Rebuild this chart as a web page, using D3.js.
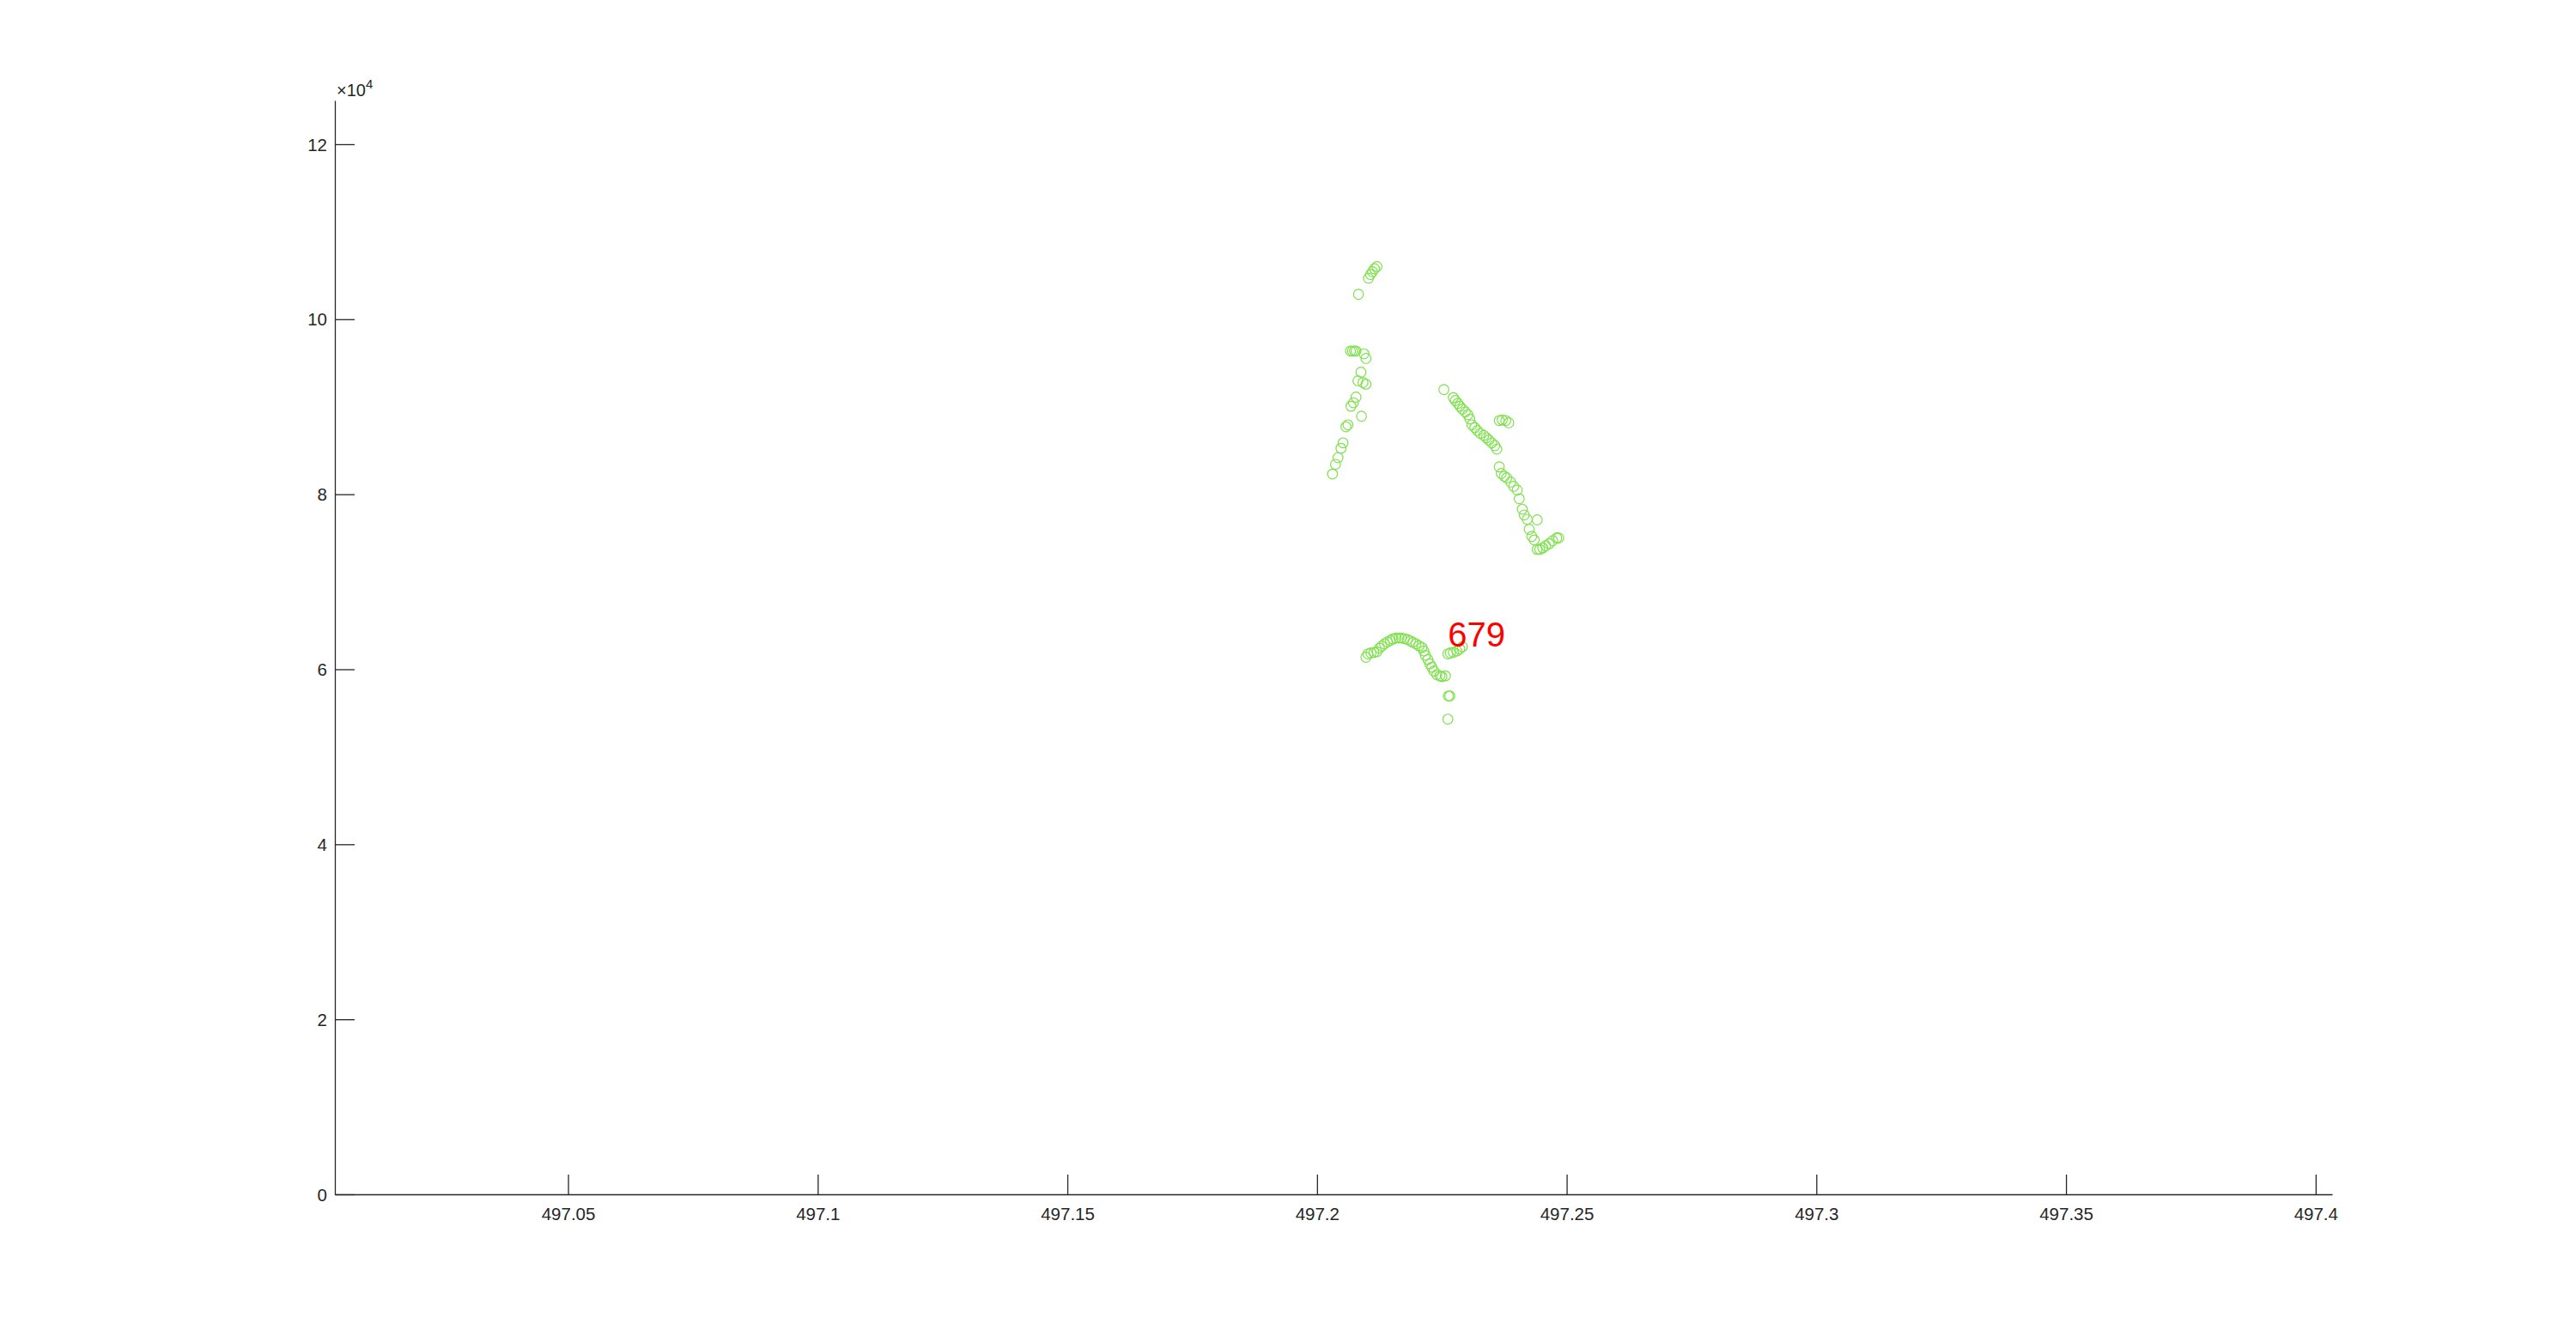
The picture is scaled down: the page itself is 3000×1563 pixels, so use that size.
<!DOCTYPE html>
<html>
<head>
<meta charset="utf-8">
<script src="https://cdn.jsdelivr.net/npm/d3@7"></script>
<style>
  html, body { margin: 0; padding: 0; background: #ffffff; }
  svg { display: block; }
</style>
</head>
<body>
<script>
// ---- data ----
const mzValues = [
  // rising trace
  497.2120, 497.2115, 497.2111, 497.2107, 497.2103, 497.2083, 497.2067, 497.2071, 497.2075, 497.2078,
  497.2094, 497.2098, 497.2088, 497.2082, 497.2092, 497.2098, 497.2078, 497.2073, 497.2068, 497.2089,
  497.2062, 497.2058, 497.2052, 497.2048, 497.2042, 497.2037, 497.2031,
  // descending trace
  497.2254, 497.2273, 497.2277, 497.2282, 497.2286, 497.2291, 497.2297, 497.2302, 497.2306, 497.2310,
  497.2316, 497.2321, 497.2327, 497.2334, 497.2339, 497.2344, 497.2350, 497.2356, 497.2360, 497.2365,
  497.2371, 497.2378, 497.2384, 497.2365, 497.2369, 497.2375, 497.2380, 497.2388, 497.2394, 497.2401,
  497.2405, 497.2411, 497.2415, 497.2421, 497.2441, 497.2425, 497.2430, 497.2435, 497.2441, 497.2446,
  497.2452, 497.2458, 497.2465, 497.2472, 497.2480, 497.2484,
  // arc
  497.2098, 497.2102, 497.2108, 497.2114, 497.2120, 497.2125, 497.2130, 497.2135, 497.2141, 497.2147,
  497.2152, 497.2158, 497.2164, 497.2169, 497.2175, 497.2181, 497.2187, 497.2192, 497.2198, 497.2204,
  497.2210, 497.2214, 497.2217, 497.2222, 497.2226, 497.2230, 497.2234, 497.2240, 497.2246, 497.2250,
  497.2257, 497.2263, 497.2266, 497.2262, 497.2262, 497.2267, 497.2273, 497.2280, 497.2286, 497.2291
];
const intensityValues = [
  106020, 105770, 105430, 105110, 104690, 102850, 96370, 96370, 96370, 96370,
  96050, 95520, 93950, 92970, 92770, 92580, 91100, 90460, 90060, 88920,
  87930, 87710, 85870, 85250, 84180, 83420, 82310,
  91960, 91040, 90710, 90390, 90060, 89730, 89410, 89080, 88590, 87930,
  87610, 87280, 86950, 86730, 86460, 86200, 85870, 85550, 85160, 88420,
  88490, 88420, 88160, 83130, 82370, 82050, 81880, 81390, 80900, 80480,
  79490, 78290, 77630, 77140, 77070, 75990, 75180, 74780, 73700, 73700,
  73870, 74100, 74360, 74690, 75010, 75010,
  61370, 61760, 61860, 61930, 62000, 62420, 62640, 62910, 63130, 63300,
  63470, 63570, 63570, 63570, 63500, 63400, 63230, 63080, 62910, 62680,
  62490, 62090, 61600, 61110, 60620, 60230, 59800, 59380, 59250, 59150,
  59250, 56950, 56950, 54300, 61760, 61860, 61930, 62090, 62320, 62580
];
const labelText = ["679"];
const labelPos = [[497.2262, 64000]];
const xDomain = [497.0033, 497.4033];
const yDomain = [0, 125000];
const xTickValues = [497.05, 497.1, 497.15, 497.2, 497.25, 497.3, 497.35, 497.4];
const xTickLabels = ["497.05", "497.1", "497.15", "497.2", "497.25", "497.3", "497.35", "497.4"];
const yTickValues = [0, 20000, 40000, 60000, 80000, 100000, 120000];
const yTickLabels = ["0", "2", "4", "6", "8", "10", "12"];
const yExponent = "4";

// ---- layout ----
const W = 3000, H = 1563;
const mLeft = 390, mRight = 2716, mTop = 117, mBottom = 1391;
const axisColor = "#262626";
const font = "'Liberation Sans', Arial, Helvetica, sans-serif";

const svg = d3.select("body").append("svg")
  .attr("width", W).attr("height", H)
  .style("background", "#fff");

const x = d3.scaleLinear().domain(xDomain).range([mLeft, mRight]);
const y = d3.scaleLinear().domain(yDomain).range([mBottom, mTop]);

// x axis
const xAxis = d3.axisBottom(x)
  .tickValues(xTickValues)
  .tickFormat((d, i) => xTickLabels[i])
  .tickSizeInner(-23).tickSizeOuter(0).tickPadding(16);
const gx = svg.append("g").attr("transform", `translate(0,${mBottom})`).call(xAxis);

// y axis
const yAxis = d3.axisLeft(y)
  .tickValues(yTickValues)
  .tickFormat((d, i) => yTickLabels[i])
  .tickSizeInner(-23).tickSizeOuter(0).tickPadding(9);
const gy = svg.append("g").attr("transform", `translate(${mLeft},0)`).call(yAxis);

[gx, gy].forEach(g => {
  g.selectAll("path.domain").attr("stroke", axisColor).attr("stroke-width", 1.3);
  g.selectAll(".tick line").attr("stroke", axisColor).attr("stroke-width", 1.3);
  g.selectAll(".tick text")
    .attr("fill", axisColor)
    .style("font-family", font)
    .style("font-size", "20.5px");
});
gx.selectAll(".tick text").attr("y", 30).attr("dy", "0");
gy.selectAll(".tick text").attr("dy", "0.35em");

// exponent label
const expT = svg.append("text")
  .attr("x", mLeft + 2).attr("y", mTop - 5)
  .attr("fill", axisColor)
  .style("font-family", font)
  .style("font-size", "20px");
expT.append("tspan").text("\u00d710");
expT.append("tspan").attr("dy", -9).style("font-size", "15px").text(yExponent);

// markers
const pts = mzValues.map((m, i) => [m, intensityValues[i]]);
svg.append("g").selectAll("circle")
  .data(pts).join("circle")
  .attr("cx", d => x(d[0]))
  .attr("cy", d => y(d[1]))
  .attr("r", 5.8)
  .attr("fill", "none")
  .attr("stroke", "rgb(125,225,75)")
  .attr("stroke-width", 1.2);

// annotation
svg.append("g").selectAll("text")
  .data(labelPos).join("text")
  .attr("x", d => x(d[0]))
  .attr("y", d => y(d[1]))
  .attr("dy", "0.36em")
  .attr("fill", "#ff0000")
  .style("font-family", font)
  .style("font-size", "40px")
  .text((d, i) => labelText[i]);
</script>
</body>
</html>
